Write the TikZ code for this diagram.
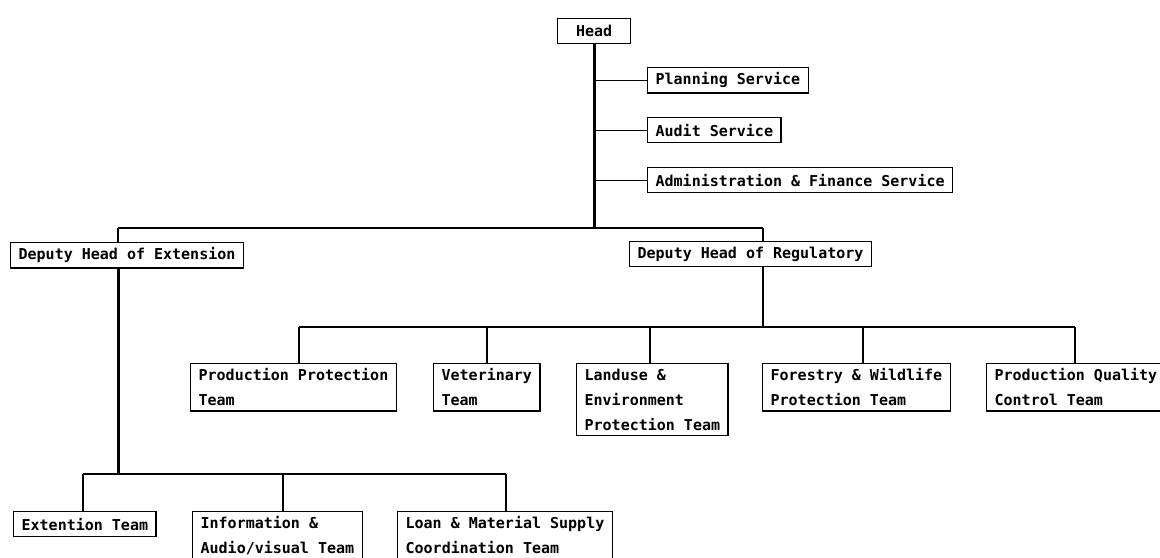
\documentclass[tikz,border=0pt]{standalone}
\usepackage{fontspec}
\newfontfamily\orgfont{DejaVu Sans Mono}
\usetikzlibrary{positioning}

\begin{document}
\begin{tikzpicture}[x=1bp, y=-1bp,
  unit/.style={draw, line width=1.3bp, anchor=north west, align=left, inner xsep=8bp, inner ysep=5bp,
    minimum height=25bp, font=\orgfont\bfseries\fontsize{15bp}{25bp}\selectfont},
  link/.style={line width=1.2bp},
  drop/.style={line width=2.4bp},
  trunk/.style={line width=3bp}]

  \useasboundingbox (0,0) rectangle (1160,558);

  % Head and the services
  \node[unit, minimum width=73bp, align=center] (head) at (557,18) {Head};
  \node[unit] (plan) at (647,67) {Planning Service};
  \node[unit] (audit) at (647,117) {Audit Service};
  \node[unit] (admin) at (647,167) {Administration \& Finance Service};

  % The two deputies
  \node[unit] (ext) at (10,242) {Deputy Head of Extension};
  \node[unit] (reg) at (629,241) {Deputy Head of Regulatory};

  % Regulatory teams
  \node[unit] (prodprot) at (190,363) {Production Protection\\Team};
  \node[unit] (vet) at (433,363) {Veterinary\\Team};
  \node[unit] (landuse) at (576,363) {Landuse \&\\Environment\\Protection Team};
  \node[unit] (forestry) at (762,363) {Forestry \& Wildlife\\Protection Team};
  \node[unit] (quality) at (986,363) {Production Quality\\Control Team};

  % Extension teams
  \node[unit] (extteam) at (13,511) {Extention Team};
  \node[unit] (info) at (192,511) {Information \&\\Audio/visual Team};
  \node[unit] (loan) at (397,511) {Loan \& Material Supply\\Coordination Team};

  % Junctions
  \coordinate (headbar) at (593,228);
  \coordinate (extjoin) at (118,228);
  \coordinate (regjoin) at (763,228);
  \coordinate (regbar) at (763,327);
  \coordinate (ppjoin) at (299,327);
  \coordinate (vetjoin) at (487,327);
  \coordinate (landjoin) at (650,327);
  \coordinate (forjoin) at (863,327);
  \coordinate (qualjoin) at (1075,327);
  \coordinate (extbar) at (118,474);
  \coordinate (etjoin) at (83,474);
  \coordinate (infojoin) at (283,474);
  \coordinate (loanjoin) at (506,474);

  % Head trunk and service branches
  \draw[trunk] (head.south) -- (head.south |- headbar);
  \draw[link] (head.south |- plan.west) -- (plan.west);
  \draw[link] (head.south |- audit.west) -- (audit.west);
  \draw[link] (head.south |- admin.west) -- (admin.west);

  % Deputies
  \draw[link] (extjoin) -- (regjoin);
  \draw[link] (extjoin) -- (extjoin |- ext.north);
  \draw[link] (regjoin) -- (regjoin |- reg.north);

  % Regulatory branch
  \draw[link] (regjoin |- reg.south) -- (regbar);
  \draw[link] (ppjoin) -- (qualjoin);
  \draw[drop] (ppjoin) -- (ppjoin |- prodprot.north);
  \draw[drop] (vetjoin) -- (vetjoin |- vet.north);
  \draw[drop] (landjoin) -- (landjoin |- landuse.north);
  \draw[drop] (forjoin) -- (forjoin |- forestry.north);
  \draw[drop] (qualjoin) -- (qualjoin |- quality.north);

  % Extension branch
  \draw[trunk] (extjoin |- ext.south) -- (extbar);
  \draw[link] (etjoin) -- (loanjoin);
  \draw[line width=1.8bp] (etjoin) -- (etjoin |- extteam.north);
  \draw[link] (infojoin) -- (infojoin |- info.north);
  \draw[drop] (loanjoin) -- (loanjoin |- loan.north);

\end{tikzpicture}
\end{document}
